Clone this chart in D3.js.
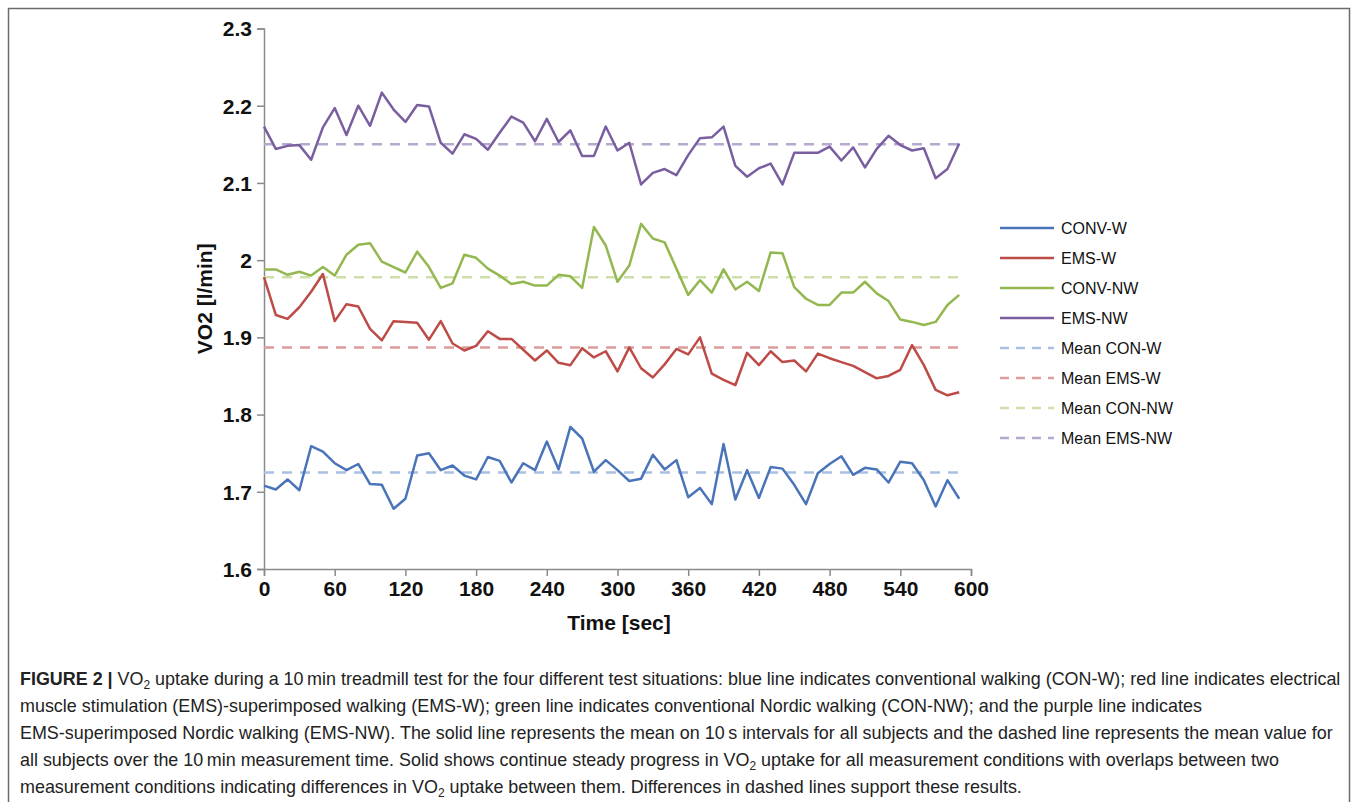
<!DOCTYPE html>
<html>
<head>
<meta charset="utf-8">
<script src="https://cdn.jsdelivr.net/npm/d3@7"></script>
<style>
  body { margin: 0; background: #fff; }
  svg { display: block; }
</style>
</head>
<body>
<svg id="chart" width="1357" height="802"></svg>
<script>
// data: VO2 means on 10 s intervals, 0..590 sec
const times = d3.range(0, 600, 10);

const convW = [1.708, 1.703, 1.716, 1.702, 1.759, 1.752, 1.737, 1.728, 1.736, 1.710,
  1.709, 1.678, 1.691, 1.747, 1.750, 1.728, 1.734, 1.721, 1.716, 1.745,
  1.740, 1.712, 1.737, 1.728, 1.765, 1.729, 1.784, 1.769, 1.726, 1.741,
  1.728, 1.714, 1.717, 1.748, 1.729, 1.741, 1.693, 1.705, 1.684, 1.762,
  1.690, 1.728, 1.692, 1.732, 1.730, 1.709, 1.684, 1.724, 1.736, 1.746,
  1.722, 1.731, 1.729, 1.712, 1.739, 1.737, 1.715, 1.681, 1.715, 1.691];

const emsW = [1.978, 1.929, 1.924, 1.939, 1.959, 1.982, 1.921, 1.943, 1.940, 1.911,
  1.896, 1.921, 1.920, 1.919, 1.897, 1.921, 1.892, 1.883, 1.889, 1.908,
  1.898, 1.898, 1.884, 1.870, 1.883, 1.867, 1.864, 1.886, 1.874, 1.882,
  1.856, 1.887, 1.860, 1.848, 1.865, 1.885, 1.878, 1.900, 1.853, 1.845,
  1.838, 1.880, 1.864, 1.882, 1.868, 1.870, 1.856, 1.879, 1.873, 1.868,
  1.863, 1.855, 1.847, 1.850, 1.858, 1.890, 1.864, 1.832, 1.825, 1.829];

const convNW = [1.988, 1.988, 1.981, 1.985, 1.980, 1.991, 1.980, 2.007, 2.020, 2.022,
  1.998, 1.991, 1.984, 2.011, 1.991, 1.964, 1.970, 2.007, 2.003, 1.989,
  1.980, 1.969, 1.972, 1.967, 1.967, 1.981, 1.979, 1.964, 2.043, 2.019,
  1.972, 1.993, 2.047, 2.028, 2.023, 1.989, 1.955, 1.974, 1.958, 1.988,
  1.962, 1.972, 1.960, 2.010, 2.009, 1.965, 1.950, 1.942, 1.942, 1.958,
  1.958, 1.972, 1.957, 1.947, 1.923, 1.920, 1.916, 1.920, 1.942, 1.955];

const emsNW = [2.173, 2.144, 2.148, 2.149, 2.130, 2.172, 2.197, 2.162, 2.200, 2.174,
  2.217, 2.195, 2.179, 2.201, 2.199, 2.152, 2.138, 2.163, 2.157, 2.143,
  2.165, 2.186, 2.178, 2.154, 2.183, 2.153, 2.168, 2.135, 2.135, 2.173,
  2.142, 2.152, 2.098, 2.113, 2.118, 2.110, 2.136, 2.158, 2.159, 2.173,
  2.122, 2.108, 2.119, 2.125, 2.098, 2.139, 2.139, 2.139, 2.147, 2.129,
  2.146, 2.120, 2.144, 2.161, 2.149, 2.142, 2.145, 2.106, 2.118, 2.151];

const seriesNames = ["CONV-W", "EMS-W", "CONV-NW", "EMS-NW"];
const seriesValues = [convW, emsW, convNW, emsNW];
const meanNames = ["Mean CON-W", "Mean EMS-W", "Mean CON-NW", "Mean EMS-NW"];
const meanValues = [1.725, 1.887, 1.978, 2.150];

const xTicks = [0, 60, 120, 180, 240, 300, 360, 420, 480, 540, 600];
const yTicks = [1.6, 1.7, 1.8, 1.9, 2.0, 2.1, 2.2, 2.3];

const lineColors = ["#4a74b9", "#bd4b48", "#93b850", "#7a5fa0"];
const meanColors = ["#a9c0e2", "#dc9c9a", "#cde0a9", "#b7a8cf"];

const svg = d3.select("#chart");
const font = "Liberation Sans, Arial, sans-serif";

// outer frame
svg.append("rect")
    .attr("x", 8.5).attr("y", 8.5)
    .attr("width", 1341).attr("height", 810)
    .attr("fill", "none")
    .attr("stroke", "#6b6b6b")
    .attr("stroke-width", 1.5);

const x = d3.scaleLinear().domain([0, 600]).range([264, 971]);
const y = d3.scaleLinear().domain([1.6, 2.3]).range([569, 28.5]);

// axes
const yAxis = svg.append("g")
    .attr("transform", `translate(${x(0)},0)`)
    .call(d3.axisLeft(y).tickValues(yTicks).tickSize(7).tickPadding(5)
        .tickFormat(d => d === 2 ? "2" : d3.format(".1f")(d)));

const xAxis = svg.append("g")
    .attr("transform", `translate(0,${y(1.6)})`)
    .call(d3.axisBottom(x).tickValues(xTicks).tickSize(7).tickPadding(5));

[yAxis, xAxis].forEach(g => {
  g.select(".domain").attr("stroke", "#8a8a8a").attr("stroke-width", 1.5);
  g.selectAll(".tick line").attr("stroke", "#8a8a8a").attr("stroke-width", 1.5);
  g.selectAll(".tick text")
      .attr("font-family", font)
      .attr("font-weight", "bold")
      .attr("font-size", 21)
      .attr("fill", "#111");
});
yAxis.selectAll(".tick text").attr("dy", "0.35em");

// axis titles
svg.append("text")
    .attr("transform", `translate(212,${y(1.95)}) rotate(-90)`)
    .attr("text-anchor", "middle")
    .attr("font-family", font)
    .attr("font-weight", "bold")
    .attr("font-size", 21)
    .attr("fill", "#111")
    .text("VO2 [l/min]");

svg.append("text")
    .attr("x", 619).attr("y", 630)
    .attr("text-anchor", "middle")
    .attr("font-family", font)
    .attr("font-weight", "bold")
    .attr("font-size", 21)
    .attr("fill", "#111")
    .text("Time [sec]");

// mean dashed lines
meanValues.forEach((m, i) => {
  svg.append("line")
      .attr("x1", x(0)).attr("x2", x(590))
      .attr("y1", y(m)).attr("y2", y(m))
      .attr("stroke", meanColors[i])
      .attr("stroke-width", 2.5)
      .attr("stroke-dasharray", "10,8");
});

// solid series lines
const line = d3.line()
    .x((d, i) => x(times[i]))
    .y(d => y(d));

seriesValues.forEach((vals, i) => {
  svg.append("path")
      .datum(vals)
      .attr("d", line)
      .attr("fill", "none")
      .attr("stroke", lineColors[i])
      .attr("stroke-width", 2.5)
      .attr("stroke-linejoin", "round");
});

// legend
const legendItems = seriesNames.map((n, i) => ({ name: n, color: lineColors[i], dash: null }))
    .concat(meanNames.map((n, i) => ({ name: n, color: meanColors[i], dash: "9,7" })));

const legend = svg.append("g");
legendItems.forEach((d, i) => {
  const ly = 228 + i * 30;
  legend.append("line")
      .attr("x1", 1000).attr("x2", 1054)
      .attr("y1", ly).attr("y2", ly)
      .attr("stroke", d.color)
      .attr("stroke-width", 2.5)
      .attr("stroke-dasharray", d.dash);
  legend.append("text")
      .attr("x", 1061).attr("y", ly)
      .attr("dy", "0.35em")
      .attr("font-family", font)
      .attr("font-size", 16)
      .attr("fill", "#111")
      .text(d.name);
});

// caption
const captionLines = [
  [["b", "FIGURE 2 | "], ["", "VO"], ["sub", "2"], ["", " uptake during a 10\u2009min treadmill test for the four different test situations: blue line indicates conventional walking (CON-W); red line indicates electrical"]],
  [["", "muscle stimulation (EMS)-superimposed walking (EMS-W); green line indicates conventional Nordic walking (CON-NW); and the purple line indicates"]],
  [["", "EMS-superimposed Nordic walking (EMS-NW). The solid line represents the mean on 10\u2009s intervals for all subjects and the dashed line represents the mean value for"]],
  [["", "all subjects over the 10\u2009min measurement time. Solid shows continue steady progress in VO"], ["sub", "2"], ["", " uptake for all measurement conditions with overlaps between two"]],
  [["", "measurement conditions indicating differences in VO"], ["sub", "2"], ["", " uptake between them. Differences in dashed lines support these results."]]
];

const cap = svg.append("g");
const capText = captionLines.map((parts, li) => {
  const t = cap.append("text")
      .attr("x", 20).attr("y", 685 + li * 27)
      .attr("font-family", font)
      .attr("font-size", 18)
      .attr("fill", "#222");
  parts.forEach((p, k) => {
    const ts = t.append("tspan").text(p[1]);
    if (p[0] === "b") ts.attr("font-weight", "bold");
    if (p[0] === "sub") ts.attr("font-size", 12).attr("dy", 4);
    if (k > 0 && parts[k - 1][0] === "sub") ts.attr("dy", -4);
  });
  return t;
});

// fit the caption width to the frame as in the figure
const w0 = capText[0].node().getComputedTextLength();
const sx = 1321 / w0;
cap.attr("transform", `translate(20,0) scale(${sx},1) translate(-20,0)`);
</script>
</body>
</html>
